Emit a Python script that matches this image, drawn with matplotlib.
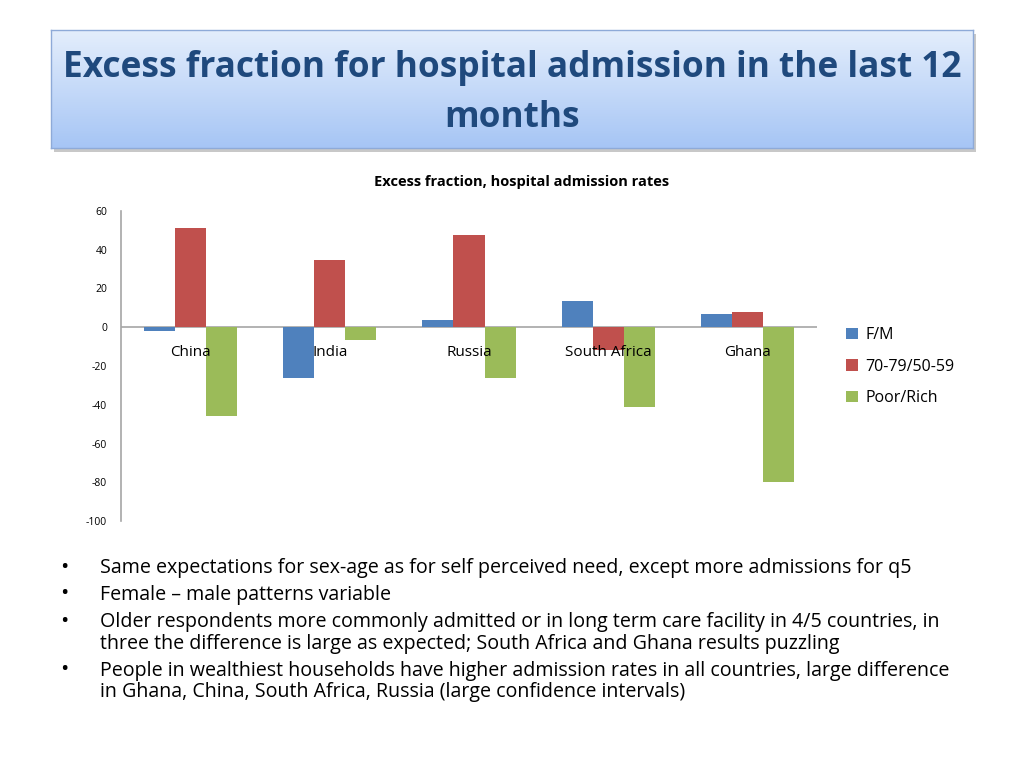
import matplotlib
matplotlib.use("Agg")
import matplotlib.pyplot as plt
import numpy as np

categories = ["China", "India", "Russia", "South Africa", "Ghana"]
series_names = ["F/M", "70-79/50-59", "Poor/Rich"]
fm = [-2, -26, 4, 13.5, 7]
age = [51, 34.5, 47.5, -11.5, 8]
wealth = [-46, -6.5, -26, -41, -80]
y_ticks = [60, 40, 20, 0, -20, -40, -60, -80, -100]
colors = ["#4f81bd", "#c0504d", "#9bbb59"]

title_text = "Excess fraction for hospital admission in the last 12\nmonths"
chart_title = "Excess fraction, hospital admission rates"
bullets = [
    "Same expectations for sex-age as for self perceived need, except more admissions for q5",
    "Female \u2013 male patterns variable",
    "Older respondents more commonly admitted or in long term care facility in 4/5 countries, in\nthree the difference is large as expected; South Africa and Ghana results puzzling",
    "People in wealthiest households have higher admission rates in all countries, large difference\nin Ghana, China, South Africa, Russia (large confidence intervals)",
]

plt.rcParams['font.family'] = ['Open Sans', 'DejaVu Sans']

W, H = 1024, 768
fig = plt.figure(figsize=(W / 100, H / 100), dpi=100)

def fx(px):
    return px / W

def fy(py):
    return 1 - py / H

# Title box with gradient and shadow
bx0, by0, bx1, by1 = 51, 30, 973, 148
sax = fig.add_axes([fx(bx0 + 3), fy(by1 + 4), fx(bx1 - bx0), fy(by0) - fy(by1)], zorder=1)
sax.set_facecolor("#c8c8c8")
sax.set_xticks([])
sax.set_yticks([])
for s in sax.spines.values():
    s.set_visible(False)
tax = fig.add_axes([fx(bx0), fy(by1), fx(bx1 - bx0), fy(by0) - fy(by1)], zorder=2)
grad = np.linspace(0, 1, 256).reshape(-1, 1)
c_top = np.array([0xe4, 0xee, 0xfc]) / 255
c_bot = np.array([0xa6, 0xc5, 0xf5]) / 255
img = c_top[None, None, :] * (1 - grad[:, :, None]) + c_bot[None, None, :] * grad[:, :, None]
tax.imshow(img, aspect="auto", extent=[0, 1, 0, 1])
tax.set_xlim(0, 1)
tax.set_ylim(0, 1)
tax.set_xticks([])
tax.set_yticks([])
for s in tax.spines.values():
    s.set_color("#8eaad8")
    s.set_linewidth(1.0)
tax.text(0.5, 0.465, title_text, ha="center", va="center", fontsize=25.4, fontweight="bold",
         color="#1f497d", linespacing=1.5, transform=tax.transAxes)

# Chart
ax = fig.add_axes([fx(121), fy(521), fx(817 - 121), fy(211) - fy(521)])
x = np.arange(len(categories))
bw = 0.223
for i, (vals, name) in enumerate(zip([fm, age, wealth], series_names)):
    ax.bar(x + (i - 1) * bw, vals, width=bw, color=colors[i], label=name, zorder=2)
ax.set_xlim(-0.5, len(categories) - 0.5)
ax.set_ylim(-100, 60)
ax.set_yticks(y_ticks)
ax.set_yticklabels([str(t) for t in y_ticks], fontsize=7.5)
ax.tick_params(axis="y", length=0, pad=10)
ax.set_xticks([])
ax.axhline(0, color="#a6a6a6", lw=1.2, zorder=1)
for side in ["top", "right", "bottom"]:
    ax.spines[side].set_visible(False)
ax.spines["left"].set_color("#a6a6a6")
ax.spines["left"].set_linewidth(1.2)
for xi, c in zip(x, categories):
    ax.text(xi, -13, c, ha="center", va="center", fontsize=11, color="black", zorder=3)

fig.text(fx(522), fy(182), chart_title, ha="center", va="center", fontsize=10.5, fontweight="bold")

handles, labels = ax.get_legend_handles_labels()
leg = fig.legend(handles, labels, loc="upper left", bbox_to_anchor=(fx(832), fy(313)),
                 frameon=False, fontsize=11.5, handlelength=0.7, handleheight=0.7,
                 handletextpad=0.5, labelspacing=0.95)

# Bullets
y_lines = [567, 594, 621, 670]
for yb, txt in zip(y_lines, bullets):
    fig.text(fx(64), fy(yb), "\u2022", ha="center", va="center", fontsize=16)
    fig.text(fx(100), fy(yb - 9), txt, ha="left", va="top", fontsize=14.1, linespacing=1.1)

fig.savefig("out.png", dpi=100)
